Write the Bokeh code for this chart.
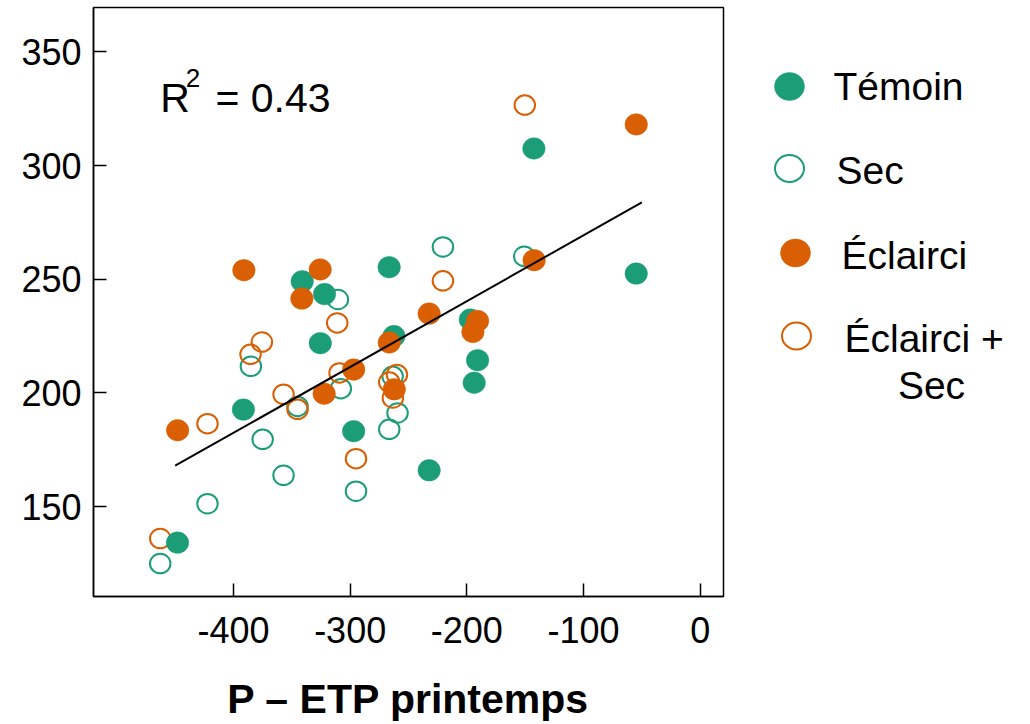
from bokeh.plotting import figure
from bokeh.models import Range1d, FixedTicker, Label
from bokeh.layouts import row
from bokeh.embed import file_html
from bokeh.resources import INLINE
from bokeh.core.properties import value

# ---------------- data ----------------
temoin_x = [-142.5, -54.8, -266.6, -341.1, -322.0, -325.6, -262.5, -391.5, -297.0, -232.3, -448.0, -190.8, -193.7, -197.0]
temoin_y = [307.5, 252.5, 255.3, 249.1, 243.5, 221.9, 225.0, 192.7, 183.2, 166.0, 134.2, 214.4, 204.5, 232.3]

sec_x = [-220.5, -150.8, -310.5, -385.1, -308.0, -345.1, -375.0, -357.1, -295.0, -422.3, -462.8, -263.6, -259.4, -266.5]
sec_y = [264.2, 260.1, 241.1, 211.7, 201.9, 194.1, 179.6, 163.8, 156.8, 151.3, 125.0, 207.3, 191.2, 184.0]

ecl_x = [-54.8, -142.3, -391.1, -325.7, -341.4, -266.5, -297.0, -322.3, -447.9, -232.3, -190.8, -194.8, -262.2]
ecl_y = [318.1, 258.4, 254.0, 254.3, 241.5, 222.2, 210.3, 199.7, 183.6, 234.9, 231.7, 226.8, 201.6]

eclsec_x = [-150.3, -220.5, -311.1, -375.7, -385.4, -309.1, -357.1, -345.1, -422.3, -295.0, -462.8, -259.9, -266.5, -263.4]
eclsec_y = [326.6, 249.3, 230.8, 222.4, 217.0, 208.8, 199.4, 192.8, 186.5, 171.1, 136.0, 208.1, 204.8, 197.8]

fit_x = [-450, -50]
fit_y = [168.0, 283.8]
r2 = 0.43

x_ticks = [-400, -300, -200, -100, 0]
y_ticks = [150, 200, 250, 300, 350]

series_names = ["Témoin", "Sec", "Éclairci", "Éclairci + Sec"]
GREEN = "#1b9e77"
ORANGE = "#d95f02"
FONT = "Liberation Sans"

# ---------------- main plot ----------------
p = figure(width=730, height=724, x_range=Range1d(-520, 20), y_range=Range1d(110.5, 369.5),
           output_backend="svg", toolbar_location=None,
           min_border_left=93, min_border_right=7, min_border_top=7, min_border_bottom=128)
p.grid.visible = False
p.outline_line_color = "black"
p.outline_line_width = 1.5
p.background_fill_color = "white"
p.border_fill_color = "white"

for ax in (p.xaxis[0], p.yaxis[0]):
    ax.major_tick_in = 13
    ax.major_tick_out = 0
    ax.minor_tick_in = 0
    ax.minor_tick_out = 0
    ax.major_tick_line_width = 1.5
    ax.major_tick_line_color = "black"
    ax.axis_line_width = 1.5
    ax.axis_line_color = "black"
    ax.major_label_text_font = FONT
    ax.major_label_text_font_size = "36px"
    ax.major_label_text_color = "black"
    ax.major_label_text_line_height = 1.0

p.xaxis.ticker = FixedTicker(ticks=x_ticks)
p.yaxis.ticker = FixedTicker(ticks=y_ticks)
p.xaxis.major_label_overrides = {t: "%d" % t for t in x_ticks}
p.yaxis.major_label_standoff = 12
p.xaxis.major_label_standoff = 20
p.xaxis.axis_label = "P – ETP printemps"
p.xaxis.axis_label_text_font = FONT
p.xaxis.axis_label_text_font_size = "41px"
p.xaxis.axis_label_text_font_style = "bold"
p.xaxis.axis_label_text_color = "black"
p.xaxis.axis_label_text_line_height = 1.0
p.xaxis.axis_label_standoff = 30

W, H = 22.5, 21.5
p.ellipse(sec_x, sec_y, width=W - 2, height=H - 2, width_units="screen", height_units="screen",
          fill_color=None, line_color=GREEN, line_width=2)
p.ellipse(eclsec_x, eclsec_y, width=W - 2, height=H - 2, width_units="screen", height_units="screen",
          fill_color=None, line_color=ORANGE, line_width=2)
p.ellipse(temoin_x, temoin_y, width=W, height=H, width_units="screen", height_units="screen",
          fill_color=GREEN, line_color=GREEN, line_width=0.5)
p.ellipse(ecl_x, ecl_y, width=W, height=H, width_units="screen", height_units="screen",
          fill_color=ORANGE, line_color=ORANGE, line_width=0.5)
p.line(fit_x, fit_y, line_color="black", line_width=2)

p.add_layout(Label(x=-462.8, y=329.5, text="R", text_font=FONT, text_font_size="41px",
                   text_baseline="alphabetic", text_align="left", text_color="black"))
p.add_layout(Label(x=-441.0, y=338.4, text="2", text_font=FONT, text_font_size="26px",
                   text_baseline="alphabetic", text_align="left", text_color="black"))
p.add_layout(Label(x=-415.5, y=329.5, text="= %.2f" % r2, text_font=FONT, text_font_size="41px",
                   text_baseline="alphabetic", text_align="left", text_color="black"))

# ---------------- legend panel (frame aligned with main plot frame: page y 7..596) ----------------
lg = figure(width=300, height=724, x_range=Range1d(0, 300), y_range=Range1d(596, 7),
            output_backend="svg", toolbar_location=None, x_axis_location=None, y_axis_location=None,
            min_border_left=0, min_border_right=0, min_border_top=7, min_border_bottom=128)
lg.grid.visible = False
lg.outline_line_color = None
lg.background_fill_color = "white"
lg.border_fill_color = "white"

mk_x = [59, 59, 65, 66]
mk_y = [86, 168, 252.5, 335.5]
tx_x = [103, 106, 111, 114]
tx_y = [86, 169.5, 255, 338]
colors = [GREEN, GREEN, ORANGE, ORANGE]
filled = [True, False, True, False]

for i, name in enumerate(series_names):
    if filled[i]:
        lg.ellipse([mk_x[i]], [mk_y[i]], width=30, height=28, width_units="screen", height_units="screen",
                   fill_color=colors[i], line_color=colors[i], line_width=0.5)
    else:
        lg.ellipse([mk_x[i]], [mk_y[i]], width=29, height=27, width_units="screen", height_units="screen",
                   fill_color=None, line_color=colors[i], line_width=2)
    if name == "Éclairci + Sec":
        lg.text([tx_x[i]], [tx_y[i]], text=["Éclairci +"], text_font=value(FONT), text_font_size="39px",
                text_baseline="middle", text_align="left", text_color="black")
        lg.text([201], [385], text=["Sec"], text_font=value(FONT), text_font_size="39px",
                text_baseline="middle", text_align="center", text_color="black")
    else:
        lg.text([tx_x[i]], [tx_y[i]], text=[name], text_font=value(FONT), text_font_size="39px",
                text_baseline="middle", text_align="left", text_color="black")

layout = row(p, lg, spacing=0)
open("out.html", "w").write(file_html(layout, INLINE))
